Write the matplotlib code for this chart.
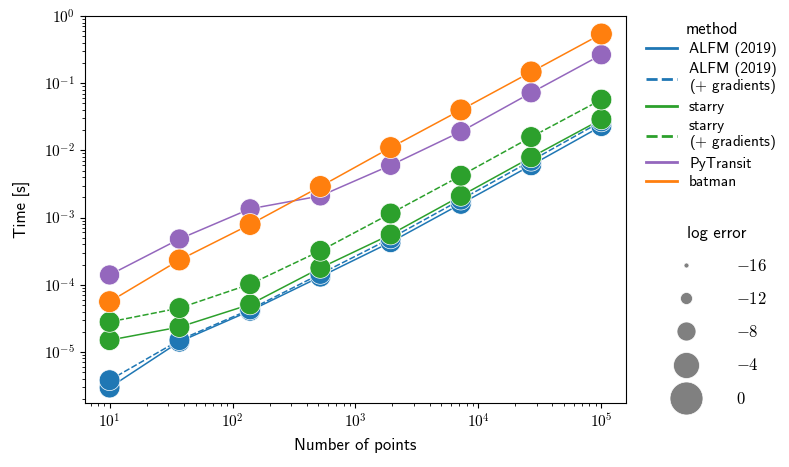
import matplotlib
matplotlib.use('Agg')
from matplotlib import pyplot as plt
from matplotlib.lines import Line2D
from matplotlib.ticker import FuncFormatter
import numpy as np

plt.rcParams['font.family'] = ['cmss10', 'DejaVu Sans']
plt.rcParams['mathtext.fontset'] = 'cm'
plt.rcParams['axes.unicode_minus'] = True
plt.rcParams['font.size'] = 10

n_points = [10, 37, 139, 518, 1931, 7197, 26827, 100000]

methods = ['ALFM (2019)', 'ALFM (2019)\n($+$ gradients)', 'starry',
           'starry\n($+$ gradients)', 'PyTransit', 'batman']

t_alfm = [2.95e-6, 1.42e-5, 4.1e-5, 1.32e-4, 4.3e-4, 1.6e-3, 6.0e-3, 2.3e-2]
t_alfm_grad = [3.8e-6, 1.5e-5, 4.3e-5, 1.45e-4, 4.9e-4, 1.85e-3, 7.0e-3, 2.7e-2]
t_starry = [1.5e-5, 2.35e-5, 5.1e-5, 1.78e-4, 5.6e-4, 2.1e-3, 7.9e-3, 2.9e-2]
t_starry_grad = [2.8e-5, 4.5e-5, 1.02e-4, 3.2e-4, 1.15e-3, 4.2e-3, 1.58e-2, 5.7e-2]
t_pytransit = [1.4e-4, 4.8e-4, 1.35e-3, 2.1e-3, 6.0e-3, 1.9e-2, 7.2e-2, 0.265]
t_batman = [5.6e-5, 2.34e-4, 7.9e-4, 2.9e-3, 1.1e-2, 4.0e-2, 0.147, 0.54]

# log10 of the error, sets the marker size
err_alfm = [-7.0] * 8
err_alfm_grad = [-7.0] * 8
err_starry = [-7.0] * 8
err_starry_grad = [-7.0] * 8
err_pytransit = [-7.4] * 8
err_batman = [-6.4] * 8

legend_errors = [-16, -12, -8, -4, 0]

times = [t_alfm, t_alfm_grad, t_starry, t_starry_grad, t_pytransit, t_batman]
errors = [err_alfm, err_alfm_grad, err_starry, err_starry_grad, err_pytransit, err_batman]
colors = ['#1f77b4', '#1f77b4', '#2ca02c', '#2ca02c', '#9467bd', '#ff7f0e']
styles = ['-', (0, (4, 1.5)), '-', (0, (4, 1.5)), '-', '-']


def diam_pt(e):
    # marker diameter grows linearly with log error
    return (33 + 1.75 * np.asarray(e)) * 0.72


fig = plt.figure(figsize=(7.89, 4.67), dpi=100)
ax = fig.add_axes([0.1077, 0.137, 0.6857, 0.8287])

handles = []
for i in range(len(methods)):
    ax.plot(n_points, times[i], color=colors[i], linestyle=styles[i], lw=1.1, zorder=1)
    handles.append(Line2D([], [], color=colors[i], linestyle=styles[i], lw=2))
for i in range(len(methods)):
    ax.scatter(n_points, times[i], s=diam_pt(errors[i]) ** 2, color=colors[i],
               edgecolor='w', linewidth=0.5, zorder=2)

ax.set_xscale('log')
ax.set_yscale('log')
ax.set_xlim(10 ** 0.8, 10 ** 5.2)
ax.set_ylim(10 ** -5.76, 1)
fmt = FuncFormatter(lambda v, p: r'$10^{%d}$' % int(round(np.log10(v))))
ax.xaxis.set_major_formatter(fmt)
ax.yaxis.set_major_formatter(fmt)
ax.tick_params(labelsize=11)
ax.set_xlabel('Number of points', fontsize=12, labelpad=5)
ax.set_ylabel('Time [s]', fontsize=12, labelpad=9)

leg1 = ax.legend(handles, methods, title='method', loc='upper left',
                 bbox_to_anchor=(1.012, 1.019), frameon=False, handlelength=2.0,
                 labelspacing=0.32, fontsize=11, title_fontsize=12)
for t in leg1.get_texts():
    t.set_linespacing(0.95)
ax.add_artist(leg1)

size_handles = []
for e in legend_errors:
    size_handles.append(Line2D([], [], linestyle='none', marker='o', color='gray',
                               markeredgecolor='w', markeredgewidth=0.5,
                               markersize=diam_pt(e)))
ax.legend(size_handles, ['$%d$' % e for e in legend_errors], title='log error',
          loc='upper left', bbox_to_anchor=(1.047, 0.497), frameon=False,
          labelspacing=1.03, handlelength=2.3, handletextpad=1.9,
          fontsize=12, title_fontsize=12)

plt.savefig('out.png', dpi=100)
